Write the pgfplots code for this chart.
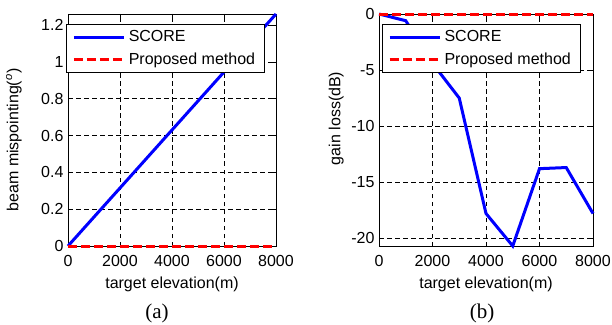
\documentclass[border=0pt]{standalone}
\usepackage{pgfplots}
\pgfplotsset{compat=1.18}
\usepackage{fontspec}
\setmainfont{Liberation Sans}
\newfontfamily\seriffont{Liberation Serif}
\begin{document}
\begin{tikzpicture}
\useasboundingbox (0pt,0pt) rectangle (612pt,324pt);
\pgfplotsset{
  mystyle/.style={
    scale only axis, height=232pt,
    xmin=0, xmax=8000, xtick={0,2000,4000,6000,8000},
    grid=major,
    major grid style={black, dash pattern=on 4.5pt off 3.5pt, line width=0.5pt},
    tick align=inside, major tick length=4pt,
    axis line style={line width=0.7pt},
    tick style={black, line width=0.6pt},
    font=\fontsize{16}{18}\selectfont,
    /pgf/number format/assume math mode=true,
    /pgf/number format/1000 sep={},
    scaled ticks=false, clip=false,
    xlabel={target elevation(m)},
    xlabel style={at={(axis description cs:0.5,0)}, anchor=center, yshift=-38pt},
    xticklabel style={anchor=center, yshift=-15pt},
    yticklabel style={anchor=east, xshift=-1pt},
    legend cell align=left,
    legend image code/.code={\draw[line width=3pt,##1] (0pt,0pt) -- (50pt,0pt);},
    legend style={anchor=north west, draw=black, line width=0.7pt, fill=white,
      inner xsep=6pt, inner ysep=3pt, row sep=2pt,
      nodes={inner ysep=3pt, inner xsep=3.5pt, text depth=0.25em}},
  }
}
\begin{axis}[mystyle, at={(68pt,78pt)}, anchor=south west, width=208pt,
  ymin=0, ymax=1.26, ytick={0,0.2,0.4,0.6,0.8,1,1.2},
  ylabel={beam mispointing(\textsuperscript{\itshape o})},
  ylabel style={at={(axis description cs:-0.26,0.457)}, anchor=center},
  legend style={at={(axis description cs:-0.01,0.955)}}]
\addplot[blue, line width=3pt] coordinates {(0,0) (1000,0.1575) (2000,0.315) (3000,0.4725) (4000,0.63) (5000,0.7875) (6000,0.945) (7000,1.1025) (8000,1.26)};
\addlegendentry{SCORE}
\addplot[red, line width=3pt, dash pattern=on 9pt off 4pt] coordinates {(0,0) (1000,0) (2000,0) (3000,0) (4000,0) (5000,0) (6000,0) (7000,0) (8000,0)};
\addlegendentry{Proposed method}
\end{axis}
\begin{axis}[mystyle, at={(379pt,78pt)}, anchor=south west, width=214pt,
  ymin=-20.7, ymax=0, ytick={-20,-15,-10,-5,0},
  ylabel={gain loss(dB)},
  ylabel style={at={(axis description cs:-0.2,0.55)}, anchor=center},
  legend style={at={(axis description cs:0.0126,0.955)}}]
\addplot[blue, line width=3pt] coordinates {(0,0) (1000,-0.6) (2000,-4.4) (3000,-7.5) (4000,-17.8) (5000,-20.7) (6000,-13.8) (7000,-13.7) (8000,-17.8)};
\addlegendentry{SCORE}
\addplot[red, line width=3pt, dash pattern=on 9pt off 4pt] coordinates {(0,0) (1000,0) (2000,0) (3000,0) (4000,0) (5000,0) (6000,0) (7000,0) (8000,0)};
\addlegendentry{Proposed method}
\end{axis}
\node[font=\seriffont\fontsize{21}{23}\selectfont] at (157pt,11pt) {(a)};
\node[font=\seriffont\fontsize{21}{23}\selectfont] at (482pt,11pt) {(b)};
\end{tikzpicture}
\end{document}
